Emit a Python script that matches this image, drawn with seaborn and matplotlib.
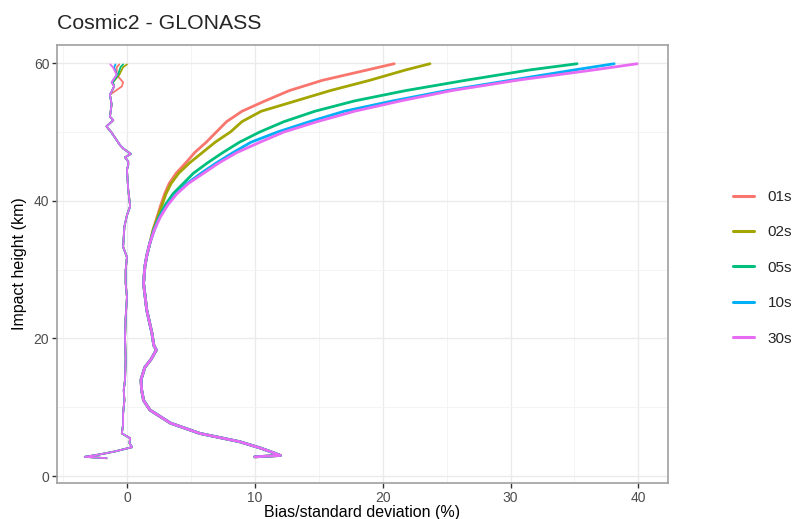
import pandas as pd
import matplotlib.pyplot as plt
from matplotlib.lines import Line2D
import seaborn as sns

# Series and colours (ggplot default hue palette)
series = ['01s', '02s', '05s', '10s', '30s']
colors = ['#F8766D', '#A3A500', '#00BF7D', '#00B0F6', '#E76BF3']

# Standard deviation (%) - shared lower part
std_h_low = [2.8, 3.0, 3.5, 4.1, 5.0, 6.2, 7.7, 9.6, 11, 12.5, 14, 15.8, 17, 18,
             18.3, 19, 20.8, 24.1, 28, 30.4, 32, 33.9]
std_low = [10.0, 12.0, 11.3, 10.4, 8.8, 5.7, 3.4, 1.8, 1.3, 1.15, 1.1, 1.4, 1.9, 2.2,
           2.3, 2.1, 1.95, 1.55, 1.3, 1.4, 1.55, 1.8]

# Standard deviation (%) - upper part per series
std_h_up = [35.8, 37.6, 39.4, 41, 42.5, 44, 45.5, 47, 48.5, 50, 51.5, 53, 54.5, 56,
            57.5, 59, 59.9]
std_01s = [2.05, 2.35, 2.65, 2.95, 3.3, 3.85, 4.6, 5.3, 6.2, 7.0, 7.8, 9.0, 10.8, 12.7,
           15.3, 18.8, 20.9]
std_02s = [2.05, 2.4, 2.75, 3.05, 3.45, 4.05, 4.9, 5.9, 6.9, 8.1, 9.0, 10.5, 13.2, 15.9,
           19.0, 21.8, 23.7]
std_05s = [2.1, 2.5, 3.0, 3.6, 4.4, 5.2, 6.3, 7.5, 8.8, 10.4, 12.3, 14.7, 17.8, 21.8,
           26.5, 31.5, 35.2]
std_10s = [2.15, 2.55, 3.15, 3.85, 4.7, 5.8, 7.0, 8.3, 9.7, 11.8, 14.3, 17.0, 20.8, 25.0,
           30.0, 35.0, 38.1]
std_30s = [2.15, 2.6, 3.2, 3.9, 4.8, 6.0, 7.2, 8.6, 10.4, 12.3, 14.9, 17.8, 21.4, 25.4,
           30.5, 36.5, 39.9]

# Bias (%) - shared lower part
bias_h_low = [2.6, 2.8, 3.0, 3.3, 3.6, 4.2, 4.8, 5.5, 6.2, 7.5, 9.1, 11, 12.5, 14, 17,
              20, 23, 26, 28, 29.9, 31.8, 33.3, 36.2, 37.9, 39.2, 41.6, 44.5, 45.2,
              45.7, 46.3, 46.8, 47.6, 48.1, 49.9, 50.8, 51.7, 52.2, 54, 55.4]
bias_low = [-1.6, -3.3, -2.6, -1.7, -0.9, 0.4, 0.2, 0.25, -0.4, -0.3, -0.3, -0.2, -0.25,
            -0.15, -0.1, -0.15, -0.1, 0.0, -0.1, -0.1, 0.0, -0.3, -0.2, 0.0, 0.25, 0.1,
            0.0, 0.1, 0.1, -0.15, 0.3, -0.3, -0.55, -1.2, -1.6, -1.07, -1.33, -1.2, -1.33]

# Bias (%) - upper part per series
bias_h_up = [56.6, 57.2, 58.3, 59.4, 59.8]
bias_01s = [-0.4, -0.3, -0.8, -0.8, -0.6]
bias_02s = [-1.0, -1.1, -0.6, -0.3, 0.0]
bias_05s = [-1.0, -1.1, -0.7, -0.5, -0.3]
bias_10s = [-1.0, -1.2, -0.8, -1.0, -0.9]
bias_30s = [-1.0, -1.2, -0.8, -1.1, -1.3]

std_up = [std_01s, std_02s, std_05s, std_10s, std_30s]
bias_up = [bias_01s, bias_02s, bias_05s, bias_10s, bias_30s]

sns.set_style('white')
plt.rcParams['font.family'] = ['Liberation Sans', 'DejaVu Sans']

fig = plt.figure(figsize=(7.96, 5.19), dpi=100)
ax = fig.add_axes([0.0716, 0.0694, 0.7674, 0.8436])

for name, col, s_up, b_up in zip(series, colors, std_up, bias_up):
    bias_df = pd.DataFrame({'value': bias_low + b_up, 'height': bias_h_low + bias_h_up})
    std_df = pd.DataFrame({'value': std_low + s_up, 'height': std_h_low + std_h_up})
    sns.lineplot(data=bias_df, x='value', y='height', sort=False, estimator=None,
                 color=col, lw=1.3, ax=ax)
    sns.lineplot(data=std_df, x='value', y='height', sort=False, estimator=None,
                 color=col, lw=2.0, ax=ax)

ax.set_xlim(-5.47, 42.3)
ax.set_ylim(-1.0, 62.6)
ax.set_xticks([0, 10, 20, 30, 40])
ax.set_yticks([0, 20, 40, 60])
ax.set_xticks([-5, 5, 15, 25, 35], minor=True)
ax.set_yticks([10, 30, 50], minor=True)
ax.grid(which='major', color='#EBEBEB', lw=1.0)
ax.grid(which='minor', color='#F3F3F3', lw=0.6)
ax.set_axisbelow(True)
for sp in ax.spines.values():
    sp.set_color('#A0A0A0')
    sp.set_linewidth(1.2)
ax.tick_params(axis='both', which='major', length=3.5, width=1.0, color='#333333',
               labelsize=10, labelcolor='#4D4D4D', pad=2, bottom=True, left=True)
ax.tick_params(which='minor', length=0)

ax.set_xlabel('Bias/standard deviation (%)', fontsize=11.5, color='black', labelpad=0)
ax.set_ylabel('Impact height (km)', fontsize=11.5, color='black', labelpad=5)
fig.text(0.0716, 0.955, 'Cosmic2 - GLONASS', fontsize=15.3, ha='left', va='center')

handles = [Line2D([0], [0], color=c, lw=2.2) for c in colors]
fig.legend(handles, series, loc='center left', bbox_to_anchor=(0.903, 0.484),
           frameon=False, fontsize=11, handlelength=1.4, labelspacing=1.4,
           handletextpad=0.9)

plt.savefig('out.png', dpi=100)
plt.close()
print('Saved: out.png')
